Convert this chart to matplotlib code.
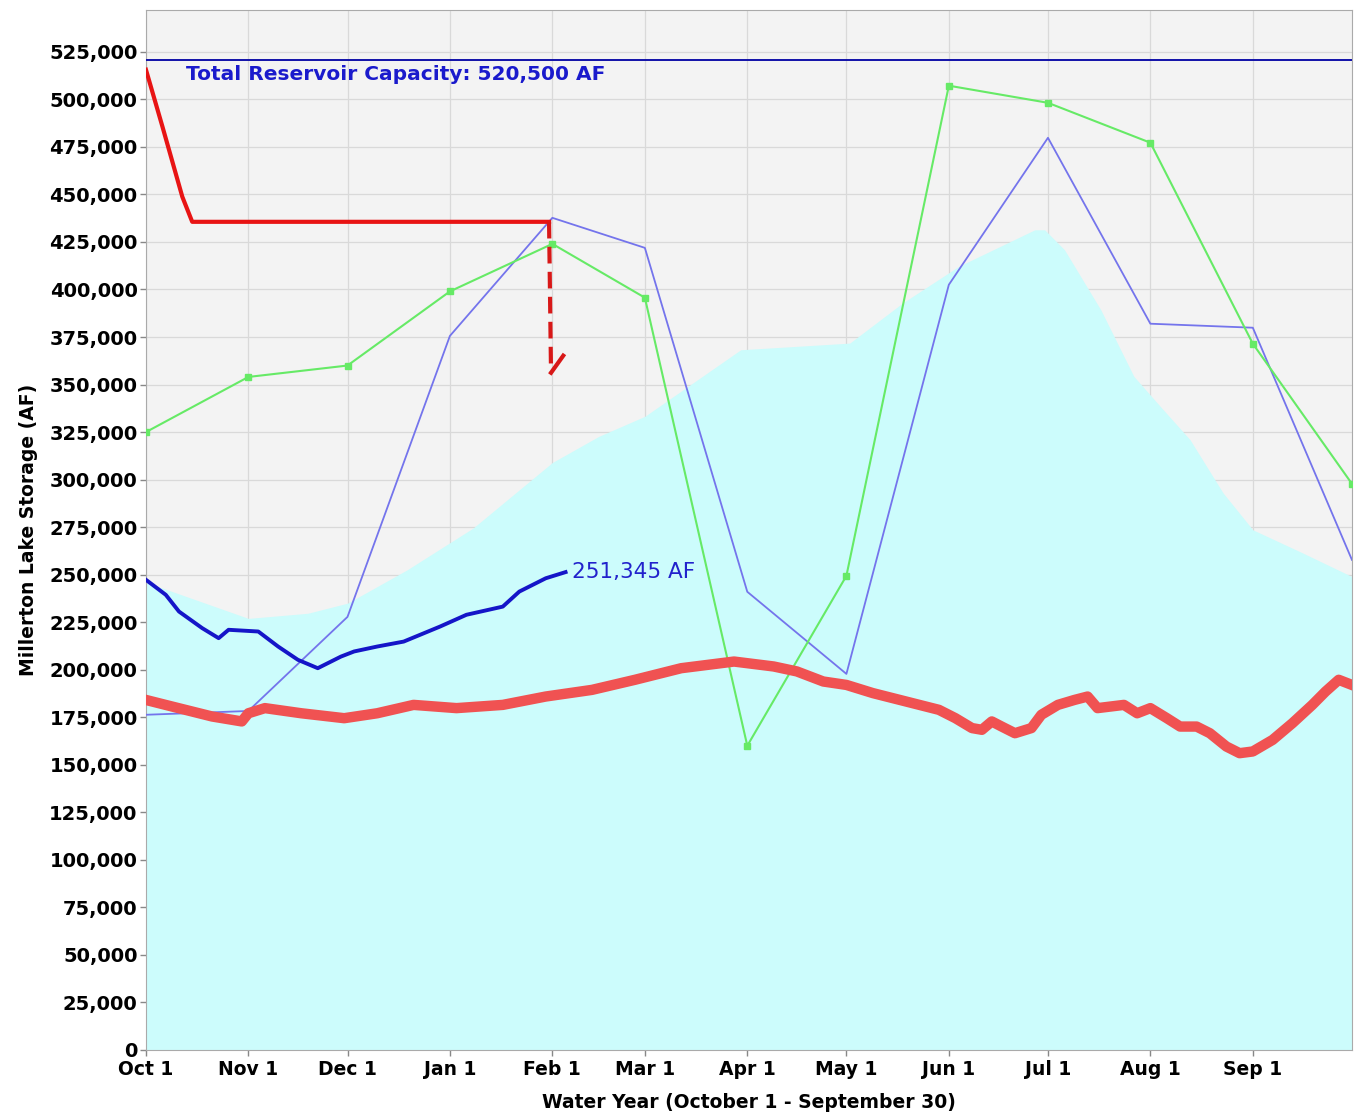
import matplotlib
matplotlib.use('Agg')
import matplotlib.pyplot as plt
from matplotlib.ticker import FuncFormatter

# ---- data (day of water year, acre-feet) ----
month_labels = ['Oct 1', 'Nov 1', 'Dec 1', 'Jan 1', 'Feb 1', 'Mar 1',
                'Apr 1', 'May 1', 'Jun 1', 'Jul 1', 'Aug 1', 'Sep 1']
month_days = [0, 31, 61, 92, 123, 151, 182, 212, 243, 273, 304, 335]
monthly_days = month_days + [365]

capacity = 520500

# historical average (cyan area)
avg_days = [0, 31, 49, 61, 79, 99, 123, 137, 151, 180, 213, 229, 246,
            269, 272, 278, 289, 299, 307, 316, 326, 335, 350, 365]
avg_af = [246000, 227000, 229700, 235000, 252500, 274500, 309000, 322700,
          333300, 368300, 371800, 392900, 412200, 431400, 431400, 420900,
          389300, 354300, 338500, 321000, 293000, 273600, 261500, 249000]

# monthly series
green_af = [325000, 354000, 360000, 399000, 424000, 395700, 160000,
            249400, 507200, 498200, 477200, 371500, 297800]
purple_af = [176300, 178300, 227800, 375600, 437700, 421900, 241000,
             197800, 402500, 479800, 382000, 379900, 257800]

# flood control / max storage (red)
flood_days = [0, 5, 11, 14, 122]
flood_af = [515600, 485600, 448800, 435600, 435600]
flood_drop = [435600, 356200]

# daily band (thick salmon)
low_days = [0, 8, 20, 29, 31, 36, 47, 60, 70, 81, 94, 108, 121, 135, 148,
            162, 178, 190, 197, 205, 212, 220, 230, 240, 245, 250, 253, 256,
            259, 263, 268, 271, 276, 281, 285, 288, 296, 300, 304, 309, 313,
            318, 322, 327, 331, 335, 341, 347, 353, 357, 361, 365]
low_af = [184100, 180600, 175400, 172800, 177100, 179800, 177100, 174500,
          177100, 181500, 179800, 181500, 185900, 189400, 194700, 200800,
          204300, 201700, 199100, 193800, 192000, 187700, 183300, 178900,
          174500, 169300, 168400, 172800, 170100, 166600, 169300, 176300,
          181500, 184100, 185900, 179800, 181500, 177100, 179800, 174500,
          170100, 170100, 166600, 159600, 156100, 157000, 163100, 171900,
          181500, 188500, 194700, 192000]

# current storage (dark blue)
cur_days = [0, 6, 10, 17, 22, 25, 34, 40, 46, 52, 59, 63, 70, 78, 89,
            97, 108, 113, 121, 127]
cur_af = [247300, 239400, 230600, 221900, 216600, 221000, 220100, 212200,
          205200, 200800, 206900, 209600, 212200, 214800, 222700, 228900,
          233200, 241100, 248100, 251345]

# ---- figure ----
fig = plt.figure(figsize=(13.59, 11.14), dpi=100)
ax = fig.add_axes([0.1074, 0.0575, 0.8874, 0.9335])
ax.set_facecolor('#f3f3f3')

ax.fill_between(avg_days, 0, avg_af, color='#ccfcfc', lw=0, zorder=1)

ax.plot(monthly_days, purple_af, color='#7474ec', lw=1.3, zorder=3)
ax.plot(monthly_days, green_af, color='#66ea66', lw=1.5, marker='s', ms=4,
        zorder=3)
ax.plot(low_days, low_af, color='#f05252', lw=7.5, solid_joinstyle='round',
        zorder=4)
ax.plot(cur_days, cur_af, color='#1515c8', lw=2.8, zorder=5)
ax.plot(flood_days, flood_af, color='#e81414', lw=3, zorder=5)
ax.plot([flood_days[-1], flood_days[-1] + 0.6], flood_drop, color='#d81818',
        lw=3, ls=(0, (4, 2)), zorder=5)
ax.plot([flood_days[-1] + 0.6, flood_days[-1] + 4.3],
        [flood_drop[1], flood_drop[1] + 9000], color='#d81818', lw=3, zorder=5)

ax.axhline(capacity, color='#1010a8', lw=1.4, zorder=6)
ax.text(12, capacity - 2500, f'Total Reservoir Capacity: {capacity:,} AF',
        color='#1a1acc', fontsize=14.5, fontweight='bold', va='top', ha='left')
ax.text(cur_days[-1] + 2, cur_af[-1], f'{cur_af[-1]:,} AF', color='#2222cc',
        fontsize=15.5, va='center', ha='left')

ax.set_xlim(0, 365)
ax.set_ylim(0, 547000)
ax.set_xticks(month_days)
ax.set_xticklabels(month_labels)
ax.set_yticks(range(0, 525001, 25000))
ax.yaxis.set_major_formatter(FuncFormatter(lambda v, p: f'{int(v):,}'))
ax.grid(True, color='#d9d9d9', lw=0.9, zorder=0)
ax.set_axisbelow(True)
for lab in ax.get_xticklabels() + ax.get_yticklabels():
    lab.set_fontweight('bold')
ax.tick_params(axis='y', labelsize=14, color='#888888', length=4, width=1,
               pad=2)
ax.tick_params(axis='x', labelsize=13.5, color='#888888', length=4, width=1,
               pad=3)
for sp in ax.spines.values():
    sp.set_color('#aaaaaa')

ax.set_ylabel('Millerton Lake Storage (AF)', fontsize=13.5,
              fontweight='bold', labelpad=8)
ax.set_xlabel('Water Year (October 1 - September 30)', fontsize=13.5,
              fontweight='bold', labelpad=10)

fig.savefig('out.png', dpi=100)
